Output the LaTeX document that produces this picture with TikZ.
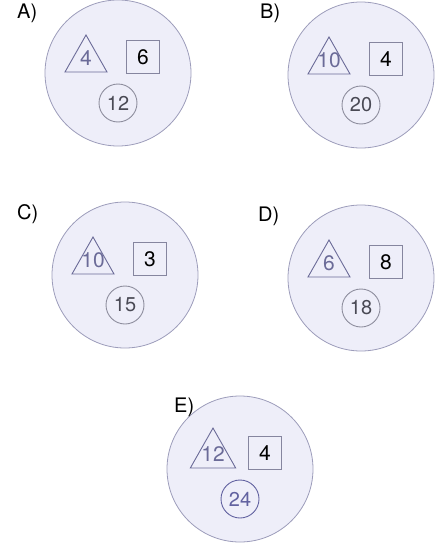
\documentclass[tikz,border=0pt]{standalone}
\usepackage{fontspec}
\setmainfont{TeX Gyre Heros}
\usepackage{tikz}
\usetikzlibrary{positioning}
\definecolor{discFill}{HTML}{EEEEF9}
\definecolor{discLine}{HTML}{9C9CBA}
\definecolor{triLine}{HTML}{6B6B98}
\definecolor{boxLine}{HTML}{85859F}
\definecolor{ringGray}{HTML}{8E8E9E}
\definecolor{ringBlue}{HTML}{6262A0}
\definecolor{numGray}{HTML}{4A4A55}

\begin{document}
\begin{tikzpicture}[x=1pt, y=-1pt,
    disc/.style={draw=discLine, fill=discFill, line width=0.8pt},
    triline/.style={draw=triLine, line width=0.9pt, line join=miter},
    trinum/.style={text=triLine, font=\fontsize{21}{22}\selectfont, anchor=base, inner sep=0pt},
    numbox/.style={draw=boxLine, line width=1.2pt, minimum size=33pt, inner sep=0pt,
      font=\fontsize{21}{22}\selectfont},
    ring/.style={circle, line width=0.9pt, minimum size=38pt, inner sep=0pt,
      font=\fontsize{20}{22}\selectfont},
    grayring/.style={ring, draw=ringGray, text=numGray},
    bluering/.style={ring, draw=ringBlue, text=ringBlue},
    tag/.style={font=\fontsize{20}{22}\selectfont, anchor=north west, inner sep=0pt}]
  \useasboundingbox (0,0) rectangle (442,546);
  \foreach \l/\lx/\ly/\cx/\cy/\t/\s/\c/\rs/\tx/\ts in {
      A/17/4/118/73/4/6/12/grayring/-32/1, B/260/4/361/75/10/4/20/grayring/-32/1,
      C/17/204/125/275/10/3/15/grayring/-32/1, D/258/207/361/278/6/8/18/grayring/-32/1,
      E/174/398/240/469/12/4/24/bluering/-27/1.08} {
    \draw[disc] (\cx,\cy) circle[radius=73];
    \node[tag] (tag\l) at (\lx,\ly) {\l)};
    \draw[triline] (\cx+\tx-21*\ts,\cy-1) -- (\cx+\tx,\cy-1-37*\ts) -- (\cx+\tx+21*\ts,\cy-1) -- cycle;
    \node[trinum] (tri\l) at (\cx+\tx,\cy-8) {\t};
    \node[numbox] (box\l) at (\cx+25,\cy-16) {\s};
    \node[\rs] (ring\l) at (\cx,\cy+30) {\c};
  }
\end{tikzpicture}
\end{document}
